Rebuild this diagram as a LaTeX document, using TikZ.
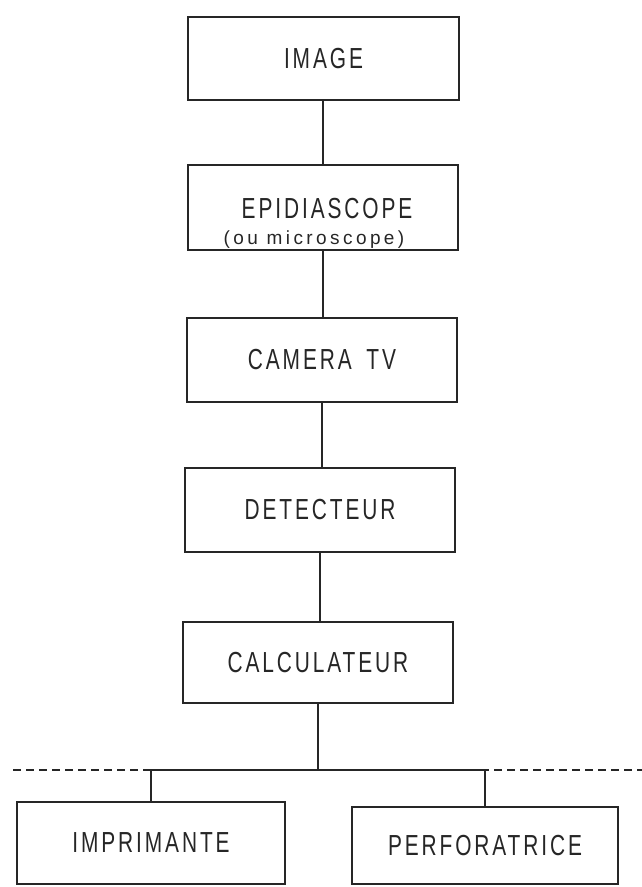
\documentclass[tikz,border=0pt]{standalone}
\usepackage{fontspec}
\newfontfamily\labfont[FakeStretch=0.72,LetterSpace=10]{Liberation Sans}
\newfontfamily\subfont[LetterSpace=18]{Liberation Sans}
\begin{document}
\begin{tikzpicture}[x=1pt,y=1pt,
  box/.style={draw=black!85,line width=1.8pt,rectangle,inner sep=0pt,
    font=\labfont\fontsize{29}{31}\selectfont,text=black!85},
  conn/.style={draw=black!85,line width=1.3pt},
  sep/.style={draw=black!85,line width=1.3pt,dash pattern=on 8pt off 5pt},
  txt/.style={inner sep=0pt,text=black!85}]
\useasboundingbox (0,0) rectangle (642,-887);
\node[box,minimum width=271pt,minimum height=83pt] (img) at (323.5,-58.5) {IMAGE};
\node[box,minimum width=270pt,minimum height=85pt] (epi) at (323,-207.5) {};
\node[txt,font=\labfont\fontsize{29}{31}\selectfont] (epit) at (327,-209) {EPIDIASCOPE};
\node[txt,font=\subfont\fontsize{19}{21}\selectfont] (epis) at (314,-240) {(ou microscope)};
\node[box,minimum width=270pt,minimum height=84pt] (cam) at (322,-360) {CAMERA\hspace{6pt} TV};
\node[box,minimum width=270pt,minimum height=84pt] (det) at (320,-510) {DETECTEUR};
\node[box,minimum width=270pt,minimum height=81pt] (calc) at (318,-662.5) {CALCULATEUR};
\node[box,minimum width=268pt,minimum height=82pt] (imp) at (151,-843) {IMPRIMANTE};
\node[box,minimum width=266pt,minimum height=77pt] (perf) at (485,-845.5) {PERFORATRICE};
\coordinate (dl) at (13,-770);
\coordinate (dr) at (642,-770);
\coordinate (bar) at (318,-770);
\coordinate (c1) at (323,-100);
\draw[sep] (dl) -- (dr);
\draw[conn] (c1) -- (c1 |- epi.north);
\draw[conn] (epi.south) -- (epi.south |- cam.north);
\draw[conn] (cam.south) -- (cam.south |- det.north);
\draw[conn] (det.south) -- (det.south |- calc.north);
\draw[conn] (calc.south) -- (bar);
\draw[conn] (imp.north) |- (bar) -| (perf.north);
\end{tikzpicture}
\end{document}
